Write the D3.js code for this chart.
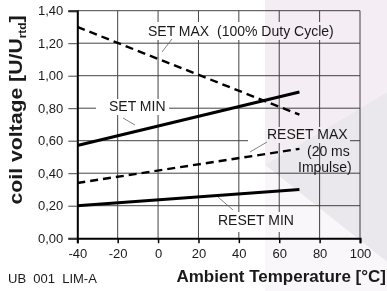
<!DOCTYPE html>
<html>
<head>
<meta charset="utf-8">
<script src="https://cdn.jsdelivr.net/npm/d3@7"></script>
<style>
  body { margin: 0; background: #fff; }
  text { font-family: "Liberation Sans", Arial, sans-serif; fill: #1a1a1a; }
</style>
</head>
<body>
<div id="chart"></div>
<script>
// size of the picture
var chart_width  = 387;
var chart_height = 291;

// data
var temps      = [-40, 70];
var setMax     = [1.30, 0.76];
var setMin     = [0.57, 0.90];
var resetMax   = [0.34, 0.55];
var resetMin   = [0.20, 0.30];

var xTicks = [-40, -20, 0, 20, 40, 60, 80, 100];
var xTickLabels = ["-40", "-20", "0", "20", "40", "60", "80", "100"];
var yTicks = [0, 0.2, 0.4, 0.6, 0.8, 1.0, 1.2, 1.4];
var yTickLabels = ["0,00", "0,20", "0,40", "0,60", "0,80", "1,00", "1,20", "1,40"];

var x = d3.scaleLinear().domain([-40, 100]).range([77.3, 360]);
var y = d3.scaleLinear().domain([0, 1.4]).range([238.2, 10.7]);

var svg = d3.select("#chart")
    .append("svg")
    .attr("width", chart_width)
    .attr("height", chart_height);

// grid
svg.append("g").selectAll("line")
    .data(yTicks.slice(1))
    .enter().append("line")
    .attr("x1", x(-40)).attr("x2", x(100))
    .attr("y1", d => y(d)).attr("y2", d => y(d))
    .attr("stroke", "#444").attr("stroke-width", 1);

svg.append("g").selectAll("line")
    .data(xTicks.slice(1))
    .enter().append("line")
    .attr("x1", d => x(d)).attr("x2", d => x(d))
    .attr("y1", y(0)).attr("y2", y(1.4))
    .attr("stroke", "#444").attr("stroke-width", 1);

// axes
var yAxis = d3.axisLeft(y).tickValues(yTicks)
    .tickFormat((d, i) => yTickLabels[i]).tickSize(9).tickPadding(5);
var gy = svg.append("g").attr("transform", "translate(" + x(-40) + ",0)").call(yAxis);
gy.select(".domain").attr("stroke", "#000").attr("stroke-width", 2);
gy.selectAll(".tick line").attr("stroke", "#444");
gy.selectAll("text").style("font-size", "13px").attr("fill", "#1a1a1a");

var xAxis = d3.axisBottom(x).tickValues(xTicks)
    .tickFormat((d, i) => xTickLabels[i]).tickSize(5).tickPadding(6);
var gx = svg.append("g").attr("transform", "translate(0," + y(0) + ")").call(xAxis);
gx.select(".domain").attr("stroke", "#000").attr("stroke-width", 2);
gx.selectAll(".tick line").attr("stroke", "#000").attr("stroke-width", 1.5);
gx.selectAll("text").style("font-size", "13px").attr("fill", "#1a1a1a");

// white boxes behind the curve labels (they hide the grid)
function box(x0, y0, w, h) {
    svg.append("rect").attr("x", x0).attr("y", y0).attr("width", w).attr("height", h).attr("fill", "#fff");
}
box(144, 22, 198, 18);
box(96, 99, 73, 16);
box(248, 127, 102, 16);
box(212, 212, 88, 20);

// leader lines
var leaders = [[172, 39, 162, 52], [123, 118, 135, 125], [267, 142, 250, 152], [218, 197, 233, 210]];
svg.append("g").selectAll("line")
    .data(leaders)
    .enter().append("line")
    .attr("x1", d => d[0]).attr("y1", d => d[1])
    .attr("x2", d => d[2]).attr("y2", d => d[3])
    .attr("stroke", "#666").attr("stroke-width", 0.8);

// curves
var line = d3.line().x(d => x(d[0])).y(d => y(d[1]));
function curve(vals, dashed) {
    svg.append("path")
        .attr("d", line(temps.map((t, i) => [t, vals[i]])))
        .attr("fill", "none")
        .attr("stroke", "#000")
        .attr("stroke-width", dashed ? 2.4 : 3)
        .attr("stroke-dasharray", dashed ? "8,5" : null);
}
curve(setMax, true);
curve(setMin, false);
curve(resetMax, true);
curve(resetMin, false);

// labels
function label(txt, tx, ty, size, weight, anchor) {
    return svg.append("text")
        .attr("x", tx).attr("y", ty)
        .attr("text-anchor", anchor || "start")
        .attr("dominant-baseline", "middle")
        .style("font-size", size + "px")
        .style("font-weight", weight || "normal")
        .style("white-space", "pre")
        .text(txt);
}
label("SET MAX  (100% Duty Cycle)", 148, 32, 14);
label("SET MIN", 109, 107, 14);
label("RESET MAX", 267, 135, 14);
label("(20 ms", 307, 152, 14);
label("Impulse)", 298, 168, 14);
label("RESET MIN", 218, 221, 14);
label("UB  001  LIM-A", 8, 280, 13);
label("Ambient Temperature [°C]", 386, 278, 17, "bold", "end");

var yl = svg.append("text")
    .attr("transform", "translate(22,110) rotate(-90) scale(1.18,1)")
    .attr("text-anchor", "middle")
    .style("font-size", "18px")
    .style("font-weight", "bold");
yl.append("tspan").text("coil voltage [U/U");
yl.append("tspan").attr("dy", 4).style("font-size", "10px").text("rtd");
yl.append("tspan").attr("dy", -4).text("]");

// faint watermark on the right
var wm = svg.append("g").style("mix-blend-mode", "multiply");
wm.append("polygon").attr("points", "265,0 387,0 387,92 265,165").attr("fill", "#f4eef4");
wm.append("polygon").attr("points", "265,165 387,92 387,262").attr("fill", "#ebe8ed");
wm.append("polygon").attr("points", "265,165 387,262 387,291 265,291").attr("fill", "#faf7fa");
</script>
</body>
</html>
